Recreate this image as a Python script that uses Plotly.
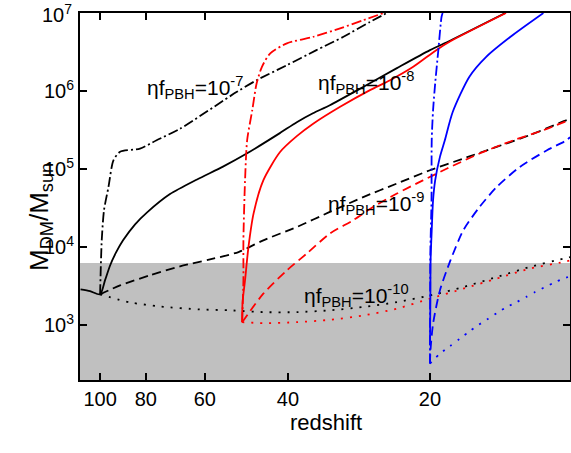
import numpy as np
import plotly.graph_objects as go

# ---------------- data ----------------
# black: start at z=100 ; red: start at z=50 ; blue: start at z=20
# line style: dash-dot = 1e-7, solid = 1e-8, dash = 1e-9, dot = 1e-10
z_black_solid = [110, 105, 100, 97.6, 95.2, 92.5, 89.4, 84.3, 79.5, 71.1, 62.3, 54.9, 48.8, 41.6, 38.3, 35.4, 32.6, 27.7, 23.5, 20, 18.1, 13.85]
m_black_solid = [2900, 2750, 2500, 3800, 5900, 8600, 1.23e4, 1.97e4, 2.8e4, 4.8e4, 7.4e4, 1.08e5, 1.6e5, 2.9e5, 4.0e5, 5.2e5, 6.6e5, 1.13e6, 1.97e6, 3.35e6, 4.45e6, 1e7]

z_black_dd = [100, 99.2, 98.1, 96.0, 93.7, 90.7, 82.3, 75.9, 67.7, 51.3, 46.6, 40.2, 34.8, 30.5, 26.8, 24.7]
m_black_dd = [2500, 1.23e4, 3.0e4, 5.9e4, 1.3e5, 1.67e5, 1.84e5, 2.35e5, 3.3e5, 9.8e5, 1.38e6, 2.15e6, 3.35e6, 4.97e6, 7.7e6, 1e7]

z_black_dash = [100, 90.7, 78.4, 67.7, 58.5, 50.9, 45.1, 38.3, 32.6, 27.7, 23.5, 20, 17.0, 14.45, 12.3, 10.27, 10.1]
m_black_dash = [2500, 3260, 4380, 5700, 7000, 8700, 1.23e4, 1.82e4, 2.84e4, 4.4e4, 6.56e4, 9.7e4, 1.37e5, 1.93e5, 2.73e5, 4.25e5, 4.4e5]

z_black_dot = [100, 86.4, 74.6, 61.4, 53.0, 45.1, 38.3, 32.6, 27.7, 23.5, 20, 17.0, 14.45, 12.3, 10.44, 10.1]
m_black_dot = [2500, 1970, 1750, 1600, 1560, 1480, 1480, 1560, 1720, 1990, 2420, 3100, 4160, 5590, 7160, 7500]

z_red_solid = [50, 49.9, 49.3, 48.5, 47.3, 45.1, 41.6, 38.3, 35.3, 31.0, 26.8, 24.3, 21.7, 19.4, 18.1, 13.8]
m_red_solid = [1100, 2000, 3800, 1.0e4, 2.7e4, 7.2e4, 1.65e5, 2.65e5, 3.85e5, 6.3e5, 1.03e6, 1.38e6, 2.05e6, 3.35e6, 4.35e6, 1e7]

z_red_dd = [50, 49.7, 49.7, 49.3, 48.8, 47.6, 46.6, 45.4, 43.6, 40.2, 35.3, 31.0, 27.7, 25.1]
m_red_dd = [1100, 3800, 1.23e4, 7.2e4, 2.35e5, 5.7e5, 1.25e6, 2.05e6, 3.04e6, 4.09e6, 4.97e6, 6.37e6, 8.1e6, 1e7]

z_red_dash = [50, 45.1, 40.2, 36.5, 32.6, 29.1, 26.4, 23.5, 20.7, 18.4, 15.7, 13.3, 11.5, 10.1]
m_red_dash = [1100, 2550, 5070, 8300, 1.5e4, 2.22e4, 3.29e4, 4.88e4, 7.2e4, 1.02e5, 1.59e5, 2.35e5, 3.16e5, 4.3e5]

z_red_dot = [50, 45.1, 38.3, 32.6, 27.7, 23.5, 20, 17.0, 14.45, 12.3, 10.44, 10.1]
m_red_dot = [1100, 1070, 1100, 1180, 1340, 1640, 2200, 2950, 3970, 5330, 6480, 6800]

z_blue_solid = [20, 19.96, 19.94, 19.83, 19.7, 19.5, 19.05, 18.6, 17.9, 16.5, 15.2, 13.5, 11.5]
m_blue_solid = [555, 2090, 6800, 1.65e4, 4.0e4, 7.2e4, 1.44e5, 2.35e5, 5.4e5, 1.53e6, 2.75e6, 4.97e6, 1e7]

z_blue_dd = [20, 19.99, 19.98, 19.96, 19.85, 19.83, 19.7, 19.5, 19.2, 18.9, 18.8]
m_blue_dd = [325, 900, 2800, 9150, 4.0e4, 2.35e5, 5.7e5, 1.25e6, 3.35e6, 8.97e6, 1e7]

z_blue_dash = [20, 19.95, 19.7, 19.05, 18.1, 17.0, 15.7, 14.45, 12.9, 11.3, 10.27, 10.1]
m_blue_dash = [325, 480, 1050, 2810, 6800, 1.65e4, 3.29e4, 5.9e4, 1.07e5, 1.75e5, 2.35e5, 2.57e5]

z_blue_dot = [20, 19.05, 18.14, 17.3, 16.5, 15.8, 15.05, 14.4, 13.76, 13.1, 12.52, 11.98, 11.41, 10.91, 10.44, 10.1]
m_blue_dot = [325, 434, 543, 675, 838, 1010, 1220, 1455, 1717, 1990, 2306, 2673, 3097, 3527, 3968, 4250]

# shaded region upper bound
shade_top = 6300

# axis ticks
x_major = [100, 80, 60, 40, 20]
x_major_text = ["100", "80", "60", "40", "20"]
y_major = [1e3, 1e4, 1e5, 1e6]
y_major_text = ["10<sup>3</sup>", "10<sup>4</sup>", "10<sup>5</sup>", "10<sup>6</sup>"]
y_top = 1e7
y_top_text = "10<sup>7</sup>"

# labels: (text, z, M)
labels = [
    ("\u03b7f<sub>PBH</sub>=10<sup>-7</sup>", 62.9, 1.1e6),
    ("\u03b7f<sub>PBH</sub>=10<sup>-8</sup>", 27.3, 1.3e6),
    ("\u03b7f<sub>PBH</sub>=10<sup>-9</sup>", 26.0, 3.6e4),
    ("\u03b7f<sub>PBH</sub>=10<sup>-10</sup>", 28.6, 2.4e3),
]
x_title = "redshift"
y_title = "M<sub>DM</sub>/M<sub>sun</sub>"

# ---------------- figure ----------------
FONT = "Liberation Sans, Arial, sans-serif"
DD = "10px,3px,2px,3px"
DASH = "9px,5px"
DOT = "2px,7px"
W = 1.8

series = [
    (z_black_dd, m_black_dd, "black", DD),
    (z_black_solid, m_black_solid, "black", "solid"),
    (z_black_dash, m_black_dash, "black", DASH),
    (z_black_dot, m_black_dot, "black", DOT),
    (z_red_dd, m_red_dd, "#FF0000", DD),
    (z_red_solid, m_red_solid, "#FF0000", "solid"),
    (z_red_dash, m_red_dash, "#FF0000", DASH),
    (z_red_dot, m_red_dot, "#FF0000", DOT),
    (z_blue_dd, m_blue_dd, "#0000FF", DD),
    (z_blue_solid, m_blue_solid, "#0000FF", "solid"),
    (z_blue_dash, m_blue_dash, "#0000FF", DASH),
    (z_blue_dot, m_blue_dot, "#0000FF", DOT),
]

fig = go.Figure()
for zs, ms, col, dash in series:
    fig.add_trace(go.Scatter(x=zs, y=ms, mode="lines",
                             line=dict(color=col, width=W, dash=dash, shape="spline", smoothing=0.7),
                             showlegend=False, hoverinfo="skip"))

fig.add_shape(type="rect", xref="paper", yref="y", x0=0, x1=1, y0=100, y1=shade_top,
              fillcolor="#C0C0C0", line=dict(width=0), layer="below")

for txt, zx, my in labels:
    fig.add_annotation(x=np.log10(zx), y=np.log10(my), xref="x", yref="y", text=txt,
                       showarrow=False, font=dict(family=FONT, size=21, color="black"))

# axis titles and the top tick label as annotations
fig.add_annotation(x=0.502, y=-0.155, xref="paper", yref="paper", text=x_title,
                   showarrow=False, font=dict(family=FONT, size=22, color="black"))
fig.add_annotation(x=-0.1194, y=0.444, xref="paper", yref="paper", text=y_title,
                   textangle=-90, showarrow=False,
                   font=dict(family=FONT, size=26, color="black"))
fig.add_annotation(x=-0.012, y=np.log10(y_top), xref="paper", yref="y", text=y_top_text,
                   xanchor="right", yanchor="middle", showarrow=False,
                   font=dict(family=FONT, size=20, color="black"))

XR = [np.log10(110.3), np.log10(10.1)]
YR = [np.log10(200), 7.0005]

fig.update_layout(
    template="none",
    xaxis=dict(type="log", range=XR, tickmode="array", tickvals=x_major, ticktext=x_major_text,
               ticks="inside", ticklen=7, tickwidth=2, tickcolor="black",
               showline=True, linewidth=2, linecolor="black", mirror="ticks",
               showgrid=False, zeroline=False),
    yaxis=dict(type="log", range=YR, tickmode="array", tickvals=y_major, ticktext=y_major_text,
               ticks="inside", ticklen=7, tickwidth=2, tickcolor="black",
               showline=True, linewidth=2, linecolor="black", mirror="ticks",
               showgrid=False, zeroline=False),
    width=571, height=453, margin=dict(l=80, r=1, t=13, b=73),
    plot_bgcolor="white", paper_bgcolor="white",
    font=dict(family=FONT, color="black", size=20),
)

fig.write_html("out.html", config={"displayModeBar": False},
               post_script="document.body.style.margin='0';")
